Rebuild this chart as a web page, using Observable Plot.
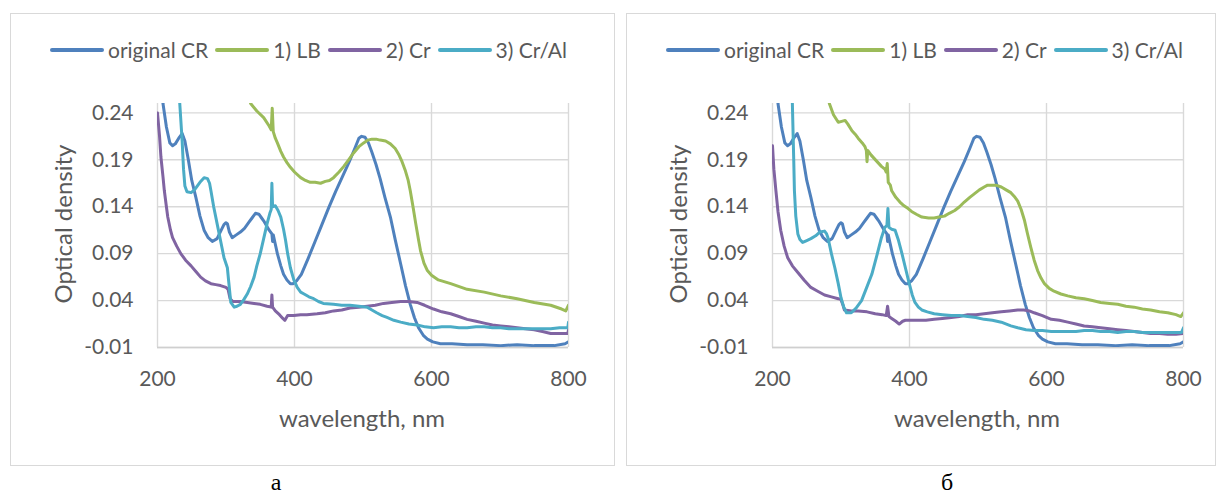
<!DOCTYPE html>
<html>
<head>
<meta charset="utf-8">
<script src="https://cdn.jsdelivr.net/npm/d3@7"></script>
<script src="https://cdn.jsdelivr.net/npm/@observablehq/plot@0.6"></script>
<style>
  html, body { margin: 0; padding: 0; background: #fff; }
  body { width: 1218px; height: 493px; position: relative; overflow: hidden; font-family: Lato, "Open Sans", sans-serif; color: #595959; }
  .box { position: absolute; border: 1.5px solid #d9d9d9; box-sizing: border-box; }
  .plotwrap { position: absolute; top: 0; width: 616px; height: 400px; }
  .plotwrap svg { max-width: none !important; }
  .legend { position: absolute; top: 39px; display: flex; align-items: center; height: 22px; }
  .sw { width: 54px; height: 3.5px; border-radius: 2px; margin-right: 4px; }
  .lt { font-size: 21px; line-height: 22px; white-space: nowrap; color: #595959; margin-right: 7px; }
  .ytitle { position: absolute; font-size: 24px; white-space: nowrap; transform: translate(-50%, -50%) rotate(-90deg); color: #595959; }
  .xtitle { position: absolute; font-size: 24px; white-space: nowrap; transform: translate(-50%, -50%); color: #595959; }
  .cap { position: absolute; font-family: "Liberation Serif", "Times New Roman", serif; font-size: 24px; line-height: 20px; height: 20px; color: #000; transform: translateX(-50%); }
</style>
</head>
<body>
<script>
// ---------- data ----------
const seriesNames = ["original CR", "1) LB", "2) Cr", "3) Cr/Al"];
const seriesColors = ["#4F81BD", "#9BBB59", "#8064A2", "#4BACC6"];
const xTicks = [200, 400, 600, 800];
const yTicks = [-0.01, 0.04, 0.09, 0.14, 0.19, 0.24];
const panelLabels = ["а", "б"];
const xTitle = "wavelength, nm";
const yTitle = "Optical density";

// original CR (same spectrum in both panels): [wavelength nm, optical density]
const originalCR = [[203,0.30],[208,0.25],[213,0.225],[218,0.208],[222,0.205],[226,0.207],[231,0.213],[236,0.218],[240,0.21],[245,0.19],[250,0.168],[256,0.15],[262,0.13],[268,0.115],[274,0.107],[280,0.103],[287,0.106],[293,0.115],[297,0.121],[300,0.123],[302,0.122],[305,0.113],[309,0.107],[315,0.110],[321,0.113],[327,0.117],[333,0.123],[338,0.128],[343,0.133],[348,0.132],[352,0.128],[355,0.125],[359,0.12],[363,0.115],[367,0.111],[368,0.103],[369,0.110],[372,0.1],[375,0.09],[380,0.077],[384,0.068],[389,0.062],[394,0.058],[398,0.058],[403,0.061],[410,0.068],[420,0.085],[430,0.103],[440,0.121],[450,0.139],[460,0.156],[470,0.172],[480,0.188],[488,0.202],[494,0.213],[498,0.215],[503,0.214],[508,0.208],[513,0.198],[519,0.185],[525,0.17],[532,0.15],[540,0.129],[547,0.105],[555,0.079],[562,0.056],[569,0.036],[575,0.022],[581,0.011],[588,0.003],[594,-0.001],[602,-0.004],[613,-0.006],[630,-0.006],[652,-0.007],[675,-0.007],[701,-0.008],[725,-0.007],[750,-0.008],[779,-0.008],[795,-0.006],[800,-0.004]];

// panel а
const aLB = [[320,0.29],[336,0.25],[345,0.242],[355,0.235],[363,0.226],[366,0.222],[367.5,0.245],[369,0.22],[372,0.213],[375,0.208],[380,0.199],[384,0.193],[389,0.187],[394,0.182],[400,0.177],[409,0.171],[416,0.168],[423,0.166],[430,0.166],[438,0.165],[445,0.167],[451,0.168],[457,0.171],[465,0.177],[472,0.183],[479,0.19],[486,0.197],[494,0.204],[501,0.208],[507,0.211],[513,0.212],[519,0.212],[525,0.211],[533,0.21],[540,0.207],[547,0.202],[552,0.196],[557,0.188],[562,0.178],[566,0.168],[569,0.157],[573,0.14],[577,0.122],[581,0.105],[584,0.093],[589,0.08],[594,0.072],[600,0.067],[610,0.062],[628,0.058],[652,0.052],[677,0.049],[701,0.045],[725,0.042],[750,0.038],[774,0.035],[790,0.031],[796,0.029],[800,0.035]];
const aCr = [[200,0.24],[203,0.215],[205,0.193],[208,0.172],[210,0.157],[213,0.14],[215,0.129],[219,0.115],[222,0.107],[228,0.098],[234,0.09],[241,0.083],[249,0.077],[256,0.071],[263,0.065],[270,0.061],[278,0.058],[285,0.057],[292,0.056],[300,0.054],[303,0.052],[306,0.042],[310,0.039],[321,0.039],[331,0.038],[341,0.037],[350,0.036],[360,0.034],[366,0.033],[367,0.046],[368,0.033],[372,0.029],[378,0.025],[383,0.021],[386,0.019],[390,0.024],[399,0.024],[409,0.025],[418,0.025],[433,0.026],[445,0.027],[457,0.029],[469,0.03],[481,0.032],[494,0.033],[506,0.034],[518,0.035],[530,0.037],[542,0.038],[555,0.039],[567,0.039],[579,0.038],[590,0.035],[603,0.031],[615,0.028],[628,0.026],[640,0.023],[652,0.020],[665,0.018],[677,0.016],[689,0.014],[701,0.013],[713,0.012],[725,0.011],[737,0.010],[750,0.009],[762,0.007],[774,0.005],[787,0.005],[799,0.005],[800,0.009]];
const aCrAl = [[229,0.30],[232.5,0.25],[236,0.21],[238,0.18],[240,0.162],[243,0.156],[249,0.155],[254,0.158],[258,0.162],[263,0.167],[268,0.171],[273,0.17],[276,0.165],[278,0.157],[282,0.14],[287,0.122],[292,0.104],[297,0.086],[302,0.075],[304,0.06],[307,0.038],[312,0.033],[316,0.034],[321,0.036],[326,0.041],[331,0.047],[336,0.055],[341,0.065],[345,0.077],[350,0.09],[355,0.106],[360,0.122],[364,0.133],[366,0.137],[367,0.165],[368,0.14],[372,0.141],[376,0.136],[380,0.129],[384,0.116],[387,0.104],[390,0.09],[394,0.075],[399,0.062],[404,0.054],[409,0.049],[414,0.047],[421,0.044],[428,0.042],[435,0.039],[442,0.037],[457,0.036],[469,0.035],[481,0.035],[494,0.034],[506,0.033],[513,0.03],[520,0.027],[528,0.024],[535,0.022],[545,0.019],[555,0.017],[567,0.015],[579,0.014],[591,0.012],[603,0.011],[615,0.012],[628,0.012],[640,0.011],[652,0.011],[665,0.012],[677,0.012],[689,0.011],[701,0.011],[713,0.01],[725,0.01],[737,0.01],[750,0.01],[762,0.01],[774,0.01],[787,0.011],[799,0.011],[800,0.017]];

// panel б
const bLB = [[270,0.30],[283,0.25],[289,0.238],[296,0.23],[301,0.231],[306,0.232],[310,0.228],[316,0.221],[321,0.217],[325,0.213],[331,0.208],[335,0.204],[337,0.2],[338,0.188],[339,0.2],[344,0.195],[349,0.191],[354,0.187],[359,0.183],[364,0.18],[366,0.177],[367.5,0.186],[369,0.166],[372,0.163],[374,0.157],[380,0.15],[386,0.145],[392,0.141],[398,0.138],[403,0.135],[410,0.132],[418,0.129],[428,0.128],[436,0.128],[443,0.129],[451,0.13],[458,0.133],[466,0.136],[473,0.14],[480,0.145],[488,0.15],[495,0.154],[502,0.158],[509,0.161],[514,0.163],[519,0.163],[526,0.163],[534,0.161],[541,0.158],[548,0.155],[553,0.151],[558,0.146],[563,0.137],[568,0.125],[572,0.112],[577,0.097],[582,0.083],[587,0.072],[592,0.064],[597,0.058],[604,0.053],[611,0.05],[621,0.047],[631,0.045],[643,0.043],[655,0.042],[667,0.04],[679,0.038],[692,0.037],[704,0.036],[716,0.034],[728,0.033],[740,0.031],[752,0.03],[765,0.028],[777,0.027],[789,0.025],[796,0.023],[800,0.027]];
const bCr = [[200,0.205],[202,0.18],[205,0.157],[208,0.135],[212,0.115],[217,0.098],[222,0.086],[229,0.077],[237,0.07],[246,0.062],[256,0.054],[266,0.05],[276,0.046],[286,0.044],[296,0.042],[300,0.041],[303,0.035],[305,0.03],[315,0.029],[325,0.029],[338,0.028],[350,0.026],[360,0.025],[366,0.024],[368,0.034],[370,0.023],[374,0.021],[380,0.018],[385,0.015],[390,0.018],[394,0.019],[404,0.019],[413,0.019],[424,0.019],[436,0.02],[448,0.021],[461,0.022],[473,0.023],[485,0.025],[497,0.025],[509,0.026],[521,0.027],[534,0.028],[546,0.029],[558,0.03],[567,0.03],[575,0.029],[582,0.027],[594,0.024],[607,0.02],[619,0.019],[631,0.017],[643,0.015],[655,0.013],[667,0.012],[679,0.011],[692,0.01],[704,0.009],[716,0.008],[728,0.007],[740,0.006],[752,0.005],[765,0.005],[777,0.004],[789,0.004],[800,0.005]];
const bCrAl = [[226,0.30],[229,0.25],[231,0.19],[232,0.157],[234,0.13],[237,0.111],[240,0.105],[244,0.102],[250,0.104],[256,0.106],[263,0.109],[269,0.113],[276,0.114],[279,0.111],[281,0.107],[286,0.09],[291,0.075],[296,0.058],[300,0.043],[304,0.033],[308,0.027],[315,0.027],[322,0.032],[330,0.04],[337,0.053],[345,0.068],[352,0.087],[359,0.107],[364,0.118],[367,0.12],[368.5,0.138],[370,0.118],[374,0.116],[379,0.115],[384,0.104],[389,0.09],[394,0.075],[399,0.06],[404,0.046],[408,0.038],[413,0.033],[418,0.03],[426,0.028],[436,0.026],[448,0.025],[461,0.024],[473,0.024],[485,0.023],[497,0.022],[509,0.02],[521,0.019],[534,0.017],[548,0.013],[558,0.011],[570,0.009],[582,0.008],[594,0.008],[607,0.007],[619,0.007],[631,0.007],[643,0.007],[655,0.008],[667,0.008],[679,0.007],[692,0.007],[704,0.006],[716,0.007],[728,0.007],[740,0.006],[752,0.006],[765,0.006],[777,0.006],[789,0.006],[797,0.006],[800,0.011]];

// ---------- layout ----------
const panels = [
  {off: 0, box: [10, 12.7, 605, 453], series: [originalCR, aLB, aCr, aCrAl], cap: 276},
  {off: 615, box: [625.7, 12.7, 590, 453], series: [originalCR, bLB, bCr, bCrAl], cap: 947}
];

function makePlot(seriesList) {
  const marks = [
    Plot.gridY(yTicks, {stroke: "#d9d9d9", strokeOpacity: 1, strokeWidth: 1.4}),
    Plot.gridX(xTicks, {stroke: "#d9d9d9", strokeOpacity: 1, strokeWidth: 1.4}),
    Plot.ruleY([-0.01], {stroke: "#cfcfcf", strokeWidth: 1.6}),
    Plot.axisY(yTicks, {tickSize: 0, tickPadding: 24, tickFormat: d => d.toFixed(2), color: "#595959", label: null}),
    Plot.axisX(xTicks, {tickSize: 0, tickPadding: 24, tickFormat: d => String(d), color: "#595959", label: null})
  ];
  seriesList.forEach((s, i) => {
    marks.push(Plot.line(s, {x: d => d[0], y: d => d[1], stroke: seriesColors[i], strokeWidth: 3, clip: true, curve: "linear"}));
  });
  return Plot.plot({
    width: 616, height: 400,
    marginLeft: 157, marginRight: 48, marginTop: 103, marginBottom: 53,
    x: {type: "linear", domain: [200, 800]},
    y: {type: "linear", domain: [-0.01, 0.25]},
    style: {background: "transparent", fontFamily: "Lato, 'Open Sans', sans-serif", fontSize: "21px", overflow: "visible", maxWidth: "none"},
    marks
  });
}

panels.forEach((p, pi) => {
  const box = document.createElement("div");
  box.className = "box";
  box.style.left = p.box[0] + "px"; box.style.top = p.box[1] + "px";
  box.style.width = p.box[2] + "px"; box.style.height = p.box[3] + "px";
  document.body.appendChild(box);

  const wrap = document.createElement("div");
  wrap.className = "plotwrap";
  wrap.style.left = p.off + "px";
  wrap.appendChild(makePlot(p.series));
  document.body.appendChild(wrap);

  const lo = pi === 0 ? 0 : 616;
  const legend = document.createElement("div");
  legend.className = "legend";
  legend.style.left = (lo + 50) + "px";
  seriesNames.forEach((name, i) => {
    const sw = document.createElement("div");
    sw.className = "sw";
    sw.style.background = seriesColors[i];
    legend.appendChild(sw);
    const t = document.createElement("div");
    t.className = "lt";
    t.textContent = name;
    legend.appendChild(t);
  });
  document.body.appendChild(legend);

  const yt = document.createElement("div");
  yt.className = "ytitle";
  yt.style.left = (p.off + 62) + "px"; yt.style.top = "224px";
  yt.textContent = yTitle;
  document.body.appendChild(yt);

  const xt = document.createElement("div");
  xt.className = "xtitle";
  xt.style.left = (p.off + 362) + "px"; xt.style.top = "417px";
  xt.textContent = xTitle;
  document.body.appendChild(xt);

  const cap = document.createElement("div");
  cap.className = "cap";
  cap.style.left = p.cap + "px"; cap.style.top = "472px";
  cap.textContent = panelLabels[pi];
  document.body.appendChild(cap);
});
</script>
</body>
</html>
